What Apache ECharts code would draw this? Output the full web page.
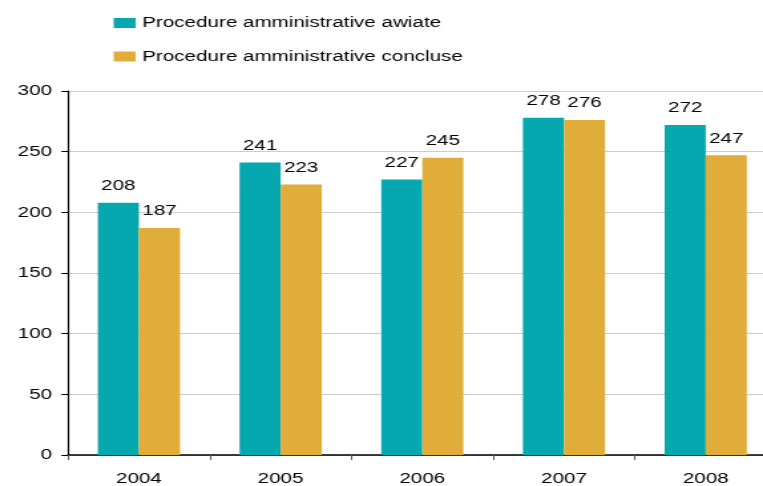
<!DOCTYPE html>
<html>
<head>
<meta charset="utf-8">
<script src="https://cdn.jsdelivr.net/npm/echarts@6/dist/echarts.min.js"></script>
<style>
  html, body { margin: 0; padding: 0; background: #fff; overflow: hidden; }
  /* The chart is laid out narrower and widened with a horizontal scale,
     which gives the wide, stretched lettering of the original graphic. */
  #chart { width: 574px; height: 486px; transform: scaleX(1.32927); transform-origin: 0 0; }
</style>
</head>
<body>
<div id="chart"></div>
<script>
// Administrative procedures per year
const years = ['2004', '2005', '2006', '2007', '2008'];
const avviate = [208, 241, 227, 278, 272];
const concluse = [187, 223, 245, 276, 247];
const seriesNames = ['Procedure amministrative awiate', 'Procedure amministrative concluse'];
const yTicks = { min: 0, max: 300, interval: 50 };

const font = 'Liberation Sans, Arial, sans-serif';
const chart = echarts.init(document.getElementById('chart'));

const labelStyle = {
  show: true,
  position: 'top',
  distance: 9,
  color: '#000',
  fontSize: 15.5,
  fontFamily: font
};

chart.setOption({
  animation: false,
  legend: {
    orient: 'vertical',
    left: 80.5,
    top: 10,
    itemWidth: 16.5,
    itemHeight: 10,
    itemGap: 17.5,
    icon: 'rect',
    textStyle: { fontSize: 15.5, fontFamily: font, color: '#000' },
    data: seriesNames
  },
  grid: { left: 51.2, top: 91, bottom: 31, width: 533, outerBoundsMode: 'none' },
  xAxis: {
    type: 'category',
    data: years,
    axisLine: { lineStyle: { color: '#000', width: 1.5 } },
    axisTick: { show: true, length: 5, lineStyle: { color: '#555' } },
    axisLabel: { color: '#000', fontSize: 15.5, fontFamily: font, margin: 16 }
  },
  yAxis: {
    type: 'value',
    min: yTicks.min,
    max: yTicks.max,
    interval: yTicks.interval,
    axisLine: { show: true, lineStyle: { color: '#000', width: 1.2 } },
    axisTick: { show: true, length: 5, lineStyle: { color: '#000' } },
    axisLabel: { color: '#000', fontSize: 15.5, fontFamily: font, margin: 12 },
    splitLine: { lineStyle: { color: '#cccccc', width: 1 } }
  },
  series: [
    {
      name: seriesNames[0],
      type: 'bar',
      data: avviate,
      barGap: '0%',
      barCategoryGap: '42%',
      itemStyle: { color: '#06a8b0' },
      label: labelStyle
    },
    {
      name: seriesNames[1],
      type: 'bar',
      data: concluse,
      itemStyle: { color: '#e0ad3a' },
      label: labelStyle
    }
  ]
});
</script>
</body>
</html>
